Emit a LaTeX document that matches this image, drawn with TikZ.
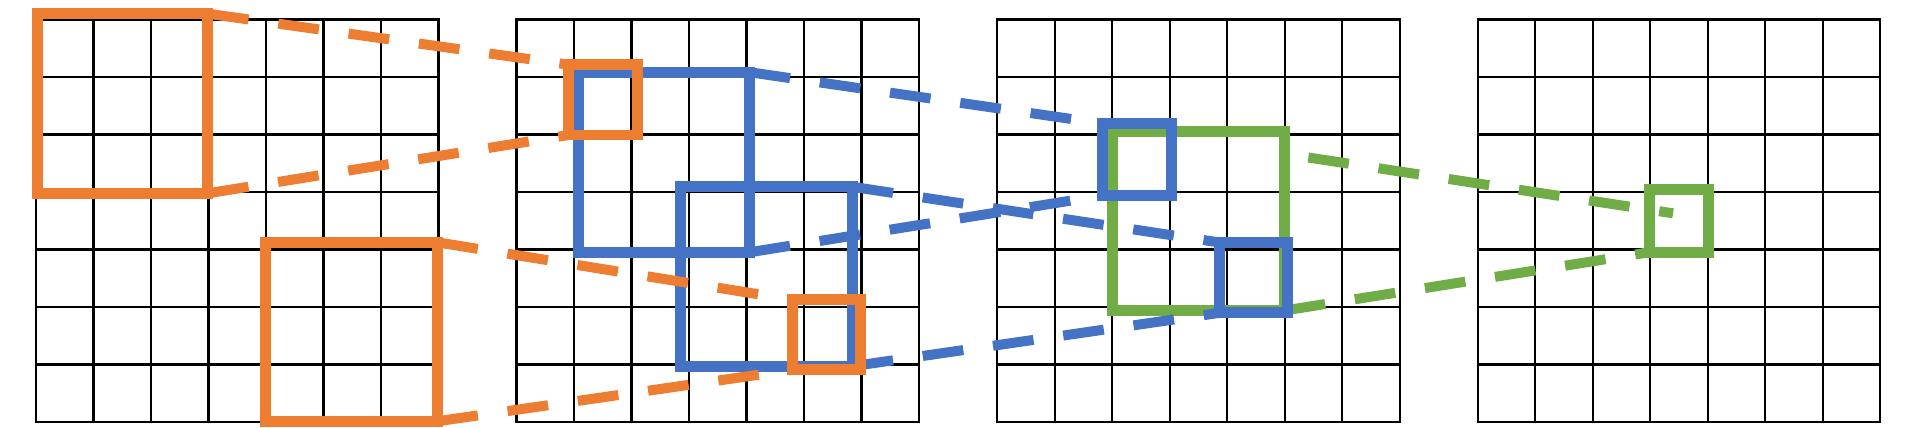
\documentclass[tikz,border=0pt]{standalone}
\definecolor{ora}{HTML}{ED7D31}
\definecolor{blu}{HTML}{4472C4}
\definecolor{gre}{HTML}{70AD47}
\begin{document}
\begin{tikzpicture}[x=0.02cm,y=-0.02cm,
  box/.style={draw=#1, line width=0.22cm, inner sep=0pt, outer sep=0pt},
  link/.style={draw=#1, line width=0.2cm, dash pattern=on 0.82cm off 0.6cm},
  gridline/.style={line width=0.046cm, draw=black, line cap=rect}]
\useasboundingbox (0,0) rectangle (1916,427);
% four 7x7 grids
\foreach \k in {0,...,3}{
  \foreach \i in {0,...,7}{
    \draw[gridline] ({36+\k*480.6+\i*57.5},19.5) -- ({36+\k*480.6+\i*57.5},422);
    \draw[gridline] ({36+\k*480.6},{19.5+\i*57.5}) -- ({36+\k*480.6+402.5},{19.5+\i*57.5});
  }
}
% green boxes
\node[box=gre, minimum width=3.448cm, minimum height=3.584cm] (G) at (1198.5,220.9) {};
\node[box=gre, minimum width=1.184cm, minimum height=1.254cm] (gs) at (1679.1,220.85) {};
\coordinate (ga) at (1308.3,157.5);
\coordinate (gb) at (1673,213.3);
\draw[link=gre] (ga) -- (gb);
\draw[link=gre] (G.south east) -- (gs.south west);
% blue boxes
\node[box=blu, minimum width=3.424cm, minimum height=3.602cm] (B1) at (663.9,162.25) {};
\node[box=blu, minimum width=3.434cm, minimum height=3.588cm] (B2) at (766.65,276.5) {};
\node[box=blu, minimum width=1.384cm, minimum height=1.44cm] (b1s) at (1137.1,159.5) {};
\node[box=blu, minimum width=1.36cm, minimum height=1.406cm] (b2s) at (1253.8,277.65) {};
\draw[link=blu] (B1.north east) -- (b1s.north west);
\draw[link=blu] (B1.south east) -- (b1s.south west);
\draw[link=blu] (B2.north east) -- (b2s.north west);
\draw[link=blu] (B2.south east) -- (b2s.south west);
% orange boxes
\node[box=ora, minimum width=3.414cm, minimum height=3.592cm] (O1) at (122.65,103.5) {};
\node[box=ora, minimum width=3.44cm, minimum height=3.58cm] (O2) at (351.3,331.8) {};
\node[box=ora, minimum width=1.37cm, minimum height=1.406cm] (o1s) at (603.05,99.85) {};
\node[box=ora, minimum width=1.366cm, minimum height=1.4cm] (o2s) at (826.65,334.8) {};
\draw[link=ora] (O1.north east) -- (o1s.north west);
\draw[link=ora] (O1.south east) -- (o1s.south west);
\draw[link=ora] (O2.north east) -- (o2s.north west);
\draw[link=ora] (O2.south east) -- (o2s.south west);
\end{tikzpicture}
\end{document}
